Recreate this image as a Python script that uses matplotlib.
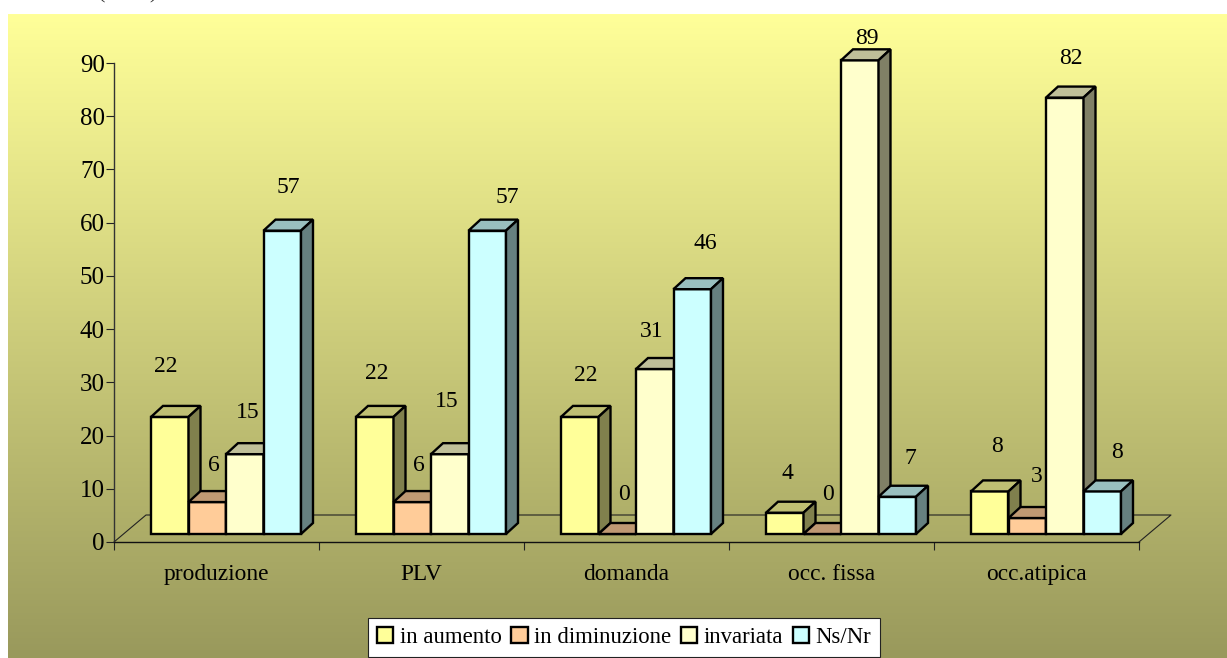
import matplotlib
matplotlib.use('Agg')
import matplotlib.pyplot as plt
import numpy as np
from matplotlib.patches import Polygon, Patch
from matplotlib.transforms import Affine2D

categorie = ['produzione', 'PLV', 'domanda', 'occ. fissa', 'occ.atipica']
in_aumento = [22, 22, 22, 4, 8]
in_diminuzione = [6, 6, 0, 0, 3]
invariata = [15, 15, 31, 89, 82]
ns_nr = [57, 57, 46, 7, 8]
serie = [in_aumento, in_diminuzione, invariata, ns_nr]
nomi = ['in aumento', 'in diminuzione', 'invariata', 'Ns/Nr']
tick_y = list(range(0, 100, 10))

# spostamento delle etichette rispetto alla barra (pixel), messe a mano come nell'originale
off_label = [
    [(-4, 50), (6.5, 37), (3, 42), (6.5, 43)],
    [(2, 43), (6.5, 37), (-3, 53), (20, 33)],
    [(6, 41), (6.5, 39), (-3, 38), (13.5, 46)],
    [(3, 39), (5.5, 39), (7, 22), (13.5, 38)],
    [(7, 45), (9.5, 42), (6, 39), (14.5, 39)],
]

# colori: fronte, sopra, lato
col_fronte = ['#FFFF99', '#FFCC99', '#FFFFCC', '#CCFFFF']
col_sopra = ['#BFBF73', '#BF9973', '#BFBF99', '#99BFBF']
col_lato = ['#80804D', '#80664D', '#808066', '#668080']

W, H = 1227, 658
plt.rcParams['font.family'] = ['Liberation Serif', 'DejaVu Sans']
fig = plt.figure(figsize=(W / 100, H / 100), dpi=100, facecolor='white')

# sfondo sfumato
bg = fig.add_axes([8 / W, 0, (W - 8) / W, (H - 14) / H], zorder=0)
sfum = np.linspace(0, 1, 256).reshape(-1, 1, 1)
alto = np.array([255, 255, 153]) / 255
basso = np.array([153, 153, 92]) / 255
bg.imshow(alto + (basso - alto) * sfum, aspect='auto', extent=[0, 1, 0, 1])
bg.axis('off')

# resto del titolo tagliato in alto
fig.text(128 / W, 1 + 2 / H, '(2005)', ha='center', va='baseline', fontsize=16, color='#333333')

ax = fig.add_axes([114 / W, (H - 542) / H, 1025 / W, 479 / H], zorder=1)
ax.patch.set_visible(False)
ax.set_xlim(0, 5)
ax.set_ylim(0, 90)
px_x = 5 / 1025
px_y = 90 / 479

# pavimento
fx, fy = 32 * px_x, 27 * px_y
ax.plot([0, fx, 5 + fx, 5], [0, fy, fy, 0], color='#222222', lw=0.8, clip_on=False, zorder=1)

# barre
sposta = ax.transData + Affine2D().translate(9.5, 8)
larg = 37.5 * px_x
dx, dy = 12 * px_x, 11 * px_y
for g in range(len(categorie)):
    for b in range(len(serie)):
        v = serie[b][g]
        x0 = g + 0.5 + (b - 2) * larg
        x1 = x0 + larg
        ax.bar(x0, v, larg, align='edge', color=col_fronte[b], edgecolor='black', lw=1.7,
               transform=sposta, clip_on=False, zorder=2)
        ax.add_patch(Polygon([(x0, v), (x0 + dx, v + dy), (x1 + dx, v + dy), (x1, v)], closed=True,
                             fc=col_sopra[b], ec='black', lw=1.7, transform=sposta, clip_on=False, zorder=2))
        ax.add_patch(Polygon([(x1, 0), (x1 + dx, dy), (x1 + dx, v + dy), (x1, v)], closed=True,
                             fc=col_lato[b], ec='black', lw=1.7, transform=sposta, clip_on=False, zorder=2))
        ox, oy = off_label[g][b]
        ax.annotate(str(v), (x0 + larg / 2, v), xycoords=sposta, xytext=(ox, oy), textcoords='offset pixels',
                    ha='center', va='center', fontsize=17, color='black', zorder=5, annotation_clip=False)

# assi
for s in ['top', 'right']:
    ax.spines[s].set_visible(False)
ax.spines['left'].set_color('#333333')
ax.spines['bottom'].set_color('#111111')
ax.spines['left'].set_linewidth(1)
ax.spines['bottom'].set_linewidth(1)
ax.set_yticks(tick_y)
ax.tick_params(axis='y', length=6, width=0.8, pad=0.5, labelsize=18, color='#222222')
ax.set_xticks(range(6))
ax.set_xticklabels([])
ax.set_xticks(np.arange(len(categorie)) + 0.5, categorie, minor=True)
ax.tick_params(axis='x', which='major', length=6, width=0.8, color='#222222')
ax.tick_params(axis='x', which='minor', length=0, pad=16, labelsize=16.8)

# legenda
maniglie = [Patch(fc=c, ec='black', lw=1.7) for c in col_fronte]
leg = fig.legend(maniglie, nomi, ncol=4, loc='center', bbox_to_anchor=(624 / W, (H - 637.5) / H),
                 fontsize=16.4, frameon=True, fancybox=False, framealpha=1, facecolor='white',
                 edgecolor='#222222', handlelength=0.72, handleheight=0.72, handletextpad=0.28,
                 columnspacing=0.42, borderpad=0.38, borderaxespad=0)
leg.get_frame().set_linewidth(0.8)

fig.savefig('out.png', dpi=100)
